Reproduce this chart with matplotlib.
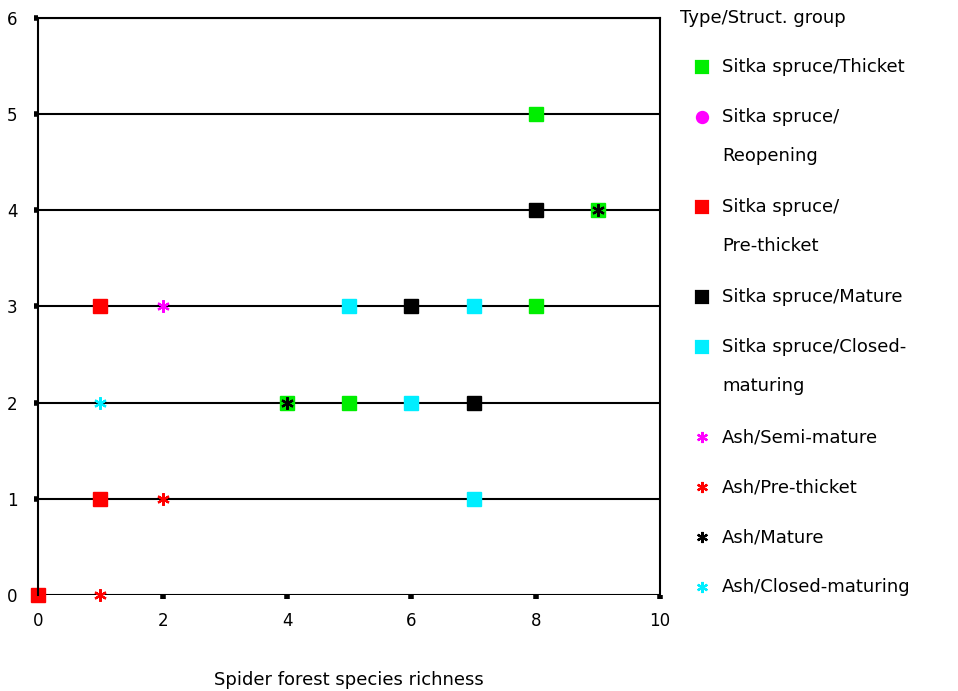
import numpy as np
import matplotlib
matplotlib.use('Agg')
import matplotlib.pyplot as plt
from matplotlib.lines import Line2D

# Data: (richness, y level) per group
groups = ['Sitka spruce/Thicket', 'Sitka spruce/\nReopening', 'Sitka spruce/\nPre-thicket',
          'Sitka spruce/Mature', 'Sitka spruce/Closed-\nmaturing', 'Ash/Semi-mature',
          'Ash/Pre-thicket', 'Ash/Mature', 'Ash/Closed-maturing']
colors = ['#00ee00', '#ff00ff', '#ff0000', '#000000', '#00eeff',
          '#ff00ff', '#ff0000', '#000000', '#00eeff']
markers = ['s', 'o', 's', 's', 's', (6, 2, 0), (6, 2, 0), (6, 2, 0), (6, 2, 0)]

thicket_x = [8, 8, 9, 5, 4]
thicket_y = [5, 3, 4, 2, 2]
reopen_x = []
reopen_y = []
prethicket_x = [1, 1, 0]
prethicket_y = [3, 1, 0]
mature_x = [8, 6, 7]
mature_y = [4, 3, 2]
closed_x = [5, 7, 6, 7]
closed_y = [3, 3, 2, 1]
ash_semi_x = [2]
ash_semi_y = [3]
ash_pre_x = [2, 1]
ash_pre_y = [1, 0]
ash_mature_x = [9, 4]
ash_mature_y = [4, 2]
ash_closed_x = [1]
ash_closed_y = [2]

xs = [thicket_x, reopen_x, prethicket_x, mature_x, closed_x, ash_semi_x, ash_pre_x, ash_mature_x, ash_closed_x]
ys = [thicket_y, reopen_y, prethicket_y, mature_y, closed_y, ash_semi_y, ash_pre_y, ash_mature_y, ash_closed_y]

fig = plt.figure(figsize=(9.58, 6.91), dpi=100)
ax = fig.add_axes([0.040, 0.139, 0.649, 0.835])

for yv in range(0, 7):
    ax.axhline(yv, color='black', lw=1.5, zorder=1)

for i in range(len(groups)):
    if len(xs[i]) == 0:
        continue
    if i >= 5:
        ax.plot(xs[i], ys[i], ls='none', marker=markers[i], color=colors[i],
                markersize=9, mew=1.6, zorder=3, clip_on=False)
    else:
        ax.plot(xs[i], ys[i], ls='none', marker=markers[i], color=colors[i],
                markersize=10.5, zorder=2, clip_on=False)

ax.set_xlim(0, 10)
ax.set_ylim(0, 6)
ax.set_xticks([0, 2, 4, 6, 8, 10])
ax.set_yticks([0, 1, 2, 3, 4, 5, 6])
ax.tick_params(axis='both', direction='out', length=3, width=4, labelsize=12, color='black')
ax.tick_params(axis='x', pad=9)
ax.tick_params(axis='y', pad=12)
for s in ['left', 'right', 'top']:
    ax.spines[s].set_linewidth(1.5)
ax.spines['bottom'].set_visible(False)
ax.set_xlabel('Spider forest species richness', fontsize=13, labelpad=30)

# legend drawn by hand so the marker sits on the first text line
fig.text(680 / 958, 1 - 18 / 691, 'Type/Struct. group', fontsize=13, va='center', ha='left')
ypix = 67
for i in range(len(groups)):
    lines = groups[i].split('\n')
    yf = 1 - ypix / 691
    fig.add_artist(Line2D([702 / 958], [yf], marker=markers[i], color=colors[i], ls='none',
                          markersize=8, mew=1.6, transform=fig.transFigure))
    for j, line in enumerate(lines):
        fig.text(722 / 958, 1 - (ypix + j * 39) / 691, line, fontsize=13, va='center', ha='left')
    ypix += 50 + 39 * (len(lines) - 1) + (1 if len(lines) > 1 else 0)

fig.savefig('out.png', dpi=100)
